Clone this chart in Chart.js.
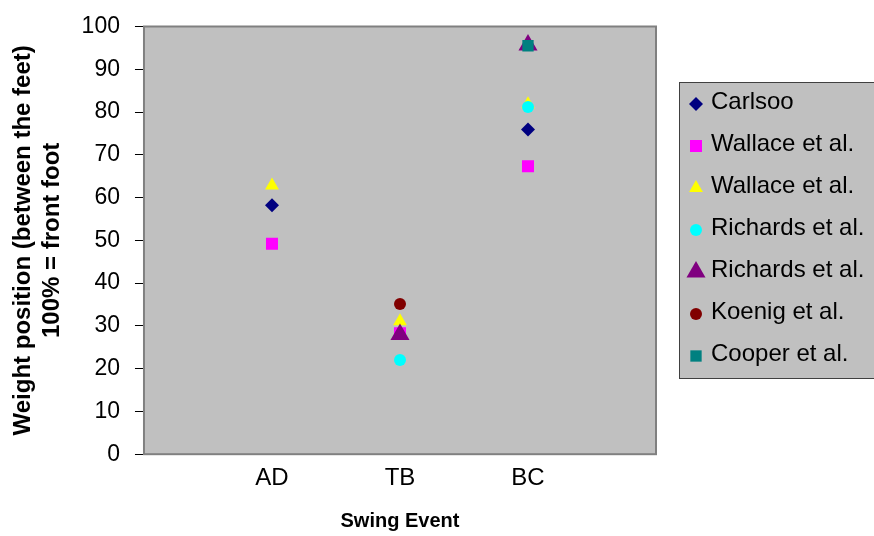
<!DOCTYPE html>
<html>
<head>
<meta charset="utf-8">
<title>Weight position by swing event</title>
<script src="https://cdn.jsdelivr.net/npm/chart.js@4.4.1/dist/chart.umd.min.js"></script>
<style>
  html, body { margin: 0; padding: 0; background: #fff; overflow: hidden; }
</style>
</head>
<body>
<canvas id="weightChart" width="874" height="536"></canvas>
<script>
// swing events along the x axis (placed at 1, 2, 3 on a 0..4 scale)
const categories = ['AD', 'TB', 'BC'];

// weight position (% between the feet, 100% = front foot) per study
const carlsoo      = [58.2, null, 75.9];
const wallaceSq    = [49.2, 28.3, 67.3];
const wallaceTri   = [62.8, 31.1, 81.8];
const richardsCirc = [null, 22.0, 81.2];
const richardsTri  = [null, 28.0, 95.7];
const koenig       = [null, 35.1, null];
const cooper       = [null, null, 95.5];

const yTicks = [0, 10, 20, 30, 40, 50, 60, 70, 80, 90, 100];

const FONT = '"Liberation Sans", Arial, sans-serif';

const series = [
  { label: 'Carlsoo',         values: carlsoo,      color: '#000080', style: 'rectRot',  r: 7 },
  { label: 'Wallace et al.',  values: wallaceSq,    color: '#ff00ff', style: 'rect',     r: 8.5 },
  { label: 'Wallace et al.',  values: wallaceTri,   color: '#ffff00', style: 'triangle', r: 8 },
  { label: 'Richards et al.', values: richardsCirc, color: '#00ffff', style: 'circle',   r: 6 },
  { label: 'Richards et al.', values: richardsTri,  color: '#800080', style: 'triangle', r: 11 },
  { label: 'Koenig et al.',   values: koenig,       color: '#800000', style: 'circle',   r: 6 },
  { label: 'Cooper et al.',   values: cooper,       color: '#008080', style: 'rect',     r: 8 }
];

const datasets = series.map((s, i) => ({
  label: s.label,
  data: s.values.map((v, k) => ({ x: k + 1, y: v })).filter(p => p.y !== null),
  pointStyle: s.style,
  pointRadius: s.r,
  backgroundColor: s.color,
  borderColor: s.color,
  borderWidth: 0,
  order: series.length - i   // later series drawn on top
}));

// grey plotting area with its frame
const plotArea = {
  id: 'plotArea',
  beforeDraw(chart) {
    const { ctx, chartArea: a } = chart;
    ctx.save();
    ctx.fillStyle = '#c0c0c0';
    ctx.fillRect(a.left, a.top, a.width, a.height);
    ctx.restore();
  },
  beforeDatasetsDraw(chart) {
    const { ctx, chartArea: a } = chart;
    ctx.save();
    ctx.strokeStyle = '#808080';
    ctx.lineWidth = 2;
    ctx.strokeRect(a.left, a.top, a.width, a.height);
    ctx.restore();
  }
};

// boxed legend on the right, markers in each dataset's own style
const boxLegend = {
  id: 'boxLegend',
  afterDraw(chart, args, opts) {
    const { ctx } = chart;
    ctx.save();
    ctx.fillStyle = '#c0c0c0';
    ctx.fillRect(opts.x, opts.y, opts.w, opts.h);
    ctx.strokeStyle = '#404040';
    ctx.lineWidth = 1;
    ctx.strokeRect(opts.x + 0.5, opts.y + 0.5, opts.w, opts.h);

    ctx.font = '24px ' + FONT;
    ctx.textBaseline = 'middle';
    ctx.textAlign = 'left';
    chart.data.datasets.forEach((ds, i) => {
      const cy = opts.firstRow + i * opts.rowGap;
      ctx.fillStyle = ds.backgroundColor;
      Chart.helpers.drawPoint(ctx, {
        pointStyle: ds.pointStyle,
        radius: ds.pointRadius,
        rotation: 0,
        borderWidth: 0
      }, opts.markerX, cy + 2);
      ctx.fillStyle = '#000';
      ctx.fillText(ds.label, opts.textX, cy);
    });
    ctx.restore();
  }
};

new Chart(document.getElementById('weightChart'), {
  type: 'scatter',
  data: { datasets },
  plugins: [plotArea, boxLegend],
  options: {
    responsive: false,
    animation: false,
    events: [],
    layout: { padding: { left: 0, top: 22, right: 218, bottom: 0 } },
    plugins: {
      legend: { display: false },
      tooltip: { enabled: false },
      boxLegend: { x: 679, y: 82, w: 220, h: 296, firstRow: 102, rowGap: 42, markerX: 696, textX: 711 }
    },
    scales: {
      x: {
        type: 'linear',
        min: 0,
        max: 4,
        border: { display: false },
        grid: { display: false, drawTicks: false, tickLength: 0 },
        afterBuildTicks(axis) {
          axis.ticks = categories.map((c, i) => ({ value: i + 1 }));
        },
        ticks: {
          color: '#000',
          padding: 10,
          font: { family: FONT, size: 24 },
          callback: v => categories[v - 1] || ''
        },
        title: {
          display: true,
          text: 'Swing Event',
          color: '#000',
          font: { family: FONT, size: 20, weight: 'bold' },
          padding: { top: 6, bottom: 3 }
        }
      },
      y: {
        min: 0,
        max: 100,
        border: { display: false },
        grid: {
          drawOnChartArea: false,
          drawTicks: true,
          tickLength: 9,
          tickColor: '#000'
        },
        afterBuildTicks(axis) {
          axis.ticks = yTicks.map(v => ({ value: v }));
        },
        ticks: {
          color: '#000',
          padding: 15,
          font: { family: FONT, size: 23, lineHeight: 1 }
        },
        title: {
          display: true,
          text: ['Weight position (between the feet)', '100% = front foot'],
          color: '#000',
          font: { family: FONT, size: 24, weight: 'bold', lineHeight: 1.2 },
          padding: { top: 9, bottom: 0 }
        }
      }
    }
  }
});
</script>
</body>
</html>
